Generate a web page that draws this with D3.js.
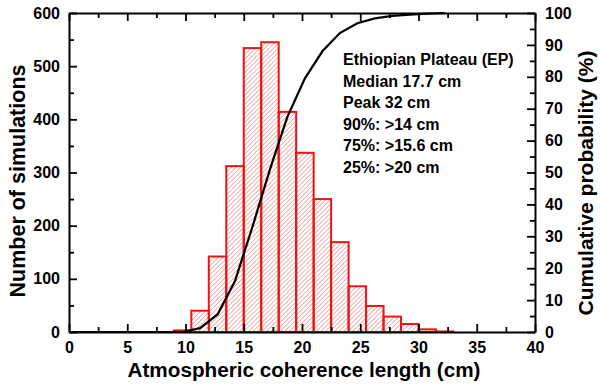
<!DOCTYPE html>
<html>
<head>
<meta charset="utf-8">
<script src="https://cdn.jsdelivr.net/npm/d3@7"></script>
<style>
  body { margin: 0; background: #fff; }
  svg { display: block; font-family: "Liberation Sans", Arial, sans-serif; font-weight: bold; }
</style>
</head>
<body>
<svg id="chart" width="600" height="386"></svg>
<script>
// histogram bins (cm) and counts
const binStarts = [9, 10.5, 12, 13.5, 15, 16.5, 18, 19.5, 21, 22.5, 24, 25.5, 27, 28.5, 30, 31.5];
const binWidth = 1.5;
const counts = [3, 40, 142, 312, 534, 545, 414, 337, 250, 169, 86, 49, 29, 15, 5, 1];

// cumulative probability curve (%)
const cumX = [0, 9.75, 11.25, 12.75, 14.25, 15.75, 17.25, 18.75, 20.25, 21.75, 23.25, 24.75, 26.25, 27.75, 29.25, 30.75, 32.25];
const cumY = [0, 0, 1.2, 5.5, 16, 33, 51, 67.5, 79.5, 88, 93.7, 96.8, 98.3, 99.1, 99.5, 99.8, 100];

const notes = [
  'Ethiopian Plateau (EP)',
  'Median 17.7 cm',
  'Peak 32 cm',
  '90%: >14 cm',
  '75%: >15.6 cm',
  '25%: >20 cm'
];

const margin = { top: 13, right: 65, bottom: 54, left: 69 };
const width = 600, height = 386;
const svg = d3.select('#chart');

const x = d3.scaleLinear().domain([0, 40]).range([margin.left, width - margin.right]);
const y = d3.scaleLinear().domain([0, 600]).range([height - margin.bottom, margin.top]);
const y2 = d3.scaleLinear().domain([0, 100]).range([height - margin.bottom, margin.top]);

const red = '#ec1515';

// hatch pattern
const defs = svg.append('defs');
const pat = defs.append('pattern')
  .attr('id', 'hatch')
  .attr('patternUnits', 'userSpaceOnUse')
  .attr('width', 3.2).attr('height', 3.2)
  .attr('patternTransform', 'rotate(45)');
pat.append('line')
  .attr('x1', 0).attr('y1', 0).attr('x2', 0).attr('y2', 3.2)
  .attr('stroke', '#e03434').attr('stroke-width', 0.75);

// bars
svg.append('g')
  .selectAll('rect')
  .data(counts)
  .join('rect')
  .attr('x', (d, i) => x(binStarts[i]))
  .attr('width', (d, i) => x(binStarts[i] + binWidth) - x(binStarts[i]))
  .attr('y', (d) => y(d))
  .attr('height', (d) => y(0) - y(d))
  .attr('fill', 'url(#hatch)')
  .attr('stroke', red)
  .attr('stroke-width', 2);

// cumulative curve
const line = d3.line()
  .x((d, i) => x(cumX[i]))
  .y((d) => y2(d));
svg.append('path')
  .datum(cumY)
  .attr('d', line)
  .attr('fill', 'none')
  .attr('stroke', '#000')
  .attr('stroke-width', 2.2);

// axes with inward major/minor ticks
function styleAxis(g) {
  g.select('.domain').attr('stroke', '#000').attr('stroke-width', 2);
  g.selectAll('.tick line').attr('stroke', '#000').attr('stroke-width', 1.8);
  g.selectAll('.tick text').attr('fill', '#000').attr('font-size', 16).attr('font-weight', 'bold');
}

const xb = height - margin.bottom;
const xt = margin.top;
const yl = margin.left;
const yr = width - margin.right;

// bottom
svg.append('g').attr('transform', `translate(0,${xb})`)
  .call(d3.axisBottom(x).tickValues(d3.range(0, 41, 2.5)).tickSize(0).tickFormat(''))
  .call((g) => g.selectAll('.tick line').attr('y2', (d) => (d % 5 === 0 ? -8 : -5)))
  .call(styleAxis);
svg.append('g').attr('transform', `translate(0,${xb})`)
  .call(d3.axisBottom(x).tickValues(d3.range(0, 41, 5)).tickSize(0).tickPadding(10))
  .call((g) => g.select('.domain').remove())
  .call(styleAxis);

// top
svg.append('g').attr('transform', `translate(0,${xt})`)
  .call(d3.axisTop(x).tickValues(d3.range(0, 41, 2.5)).tickSize(0).tickFormat(''))
  .call((g) => g.selectAll('.tick line').attr('y2', (d) => (d % 5 === 0 ? 8 : 5)))
  .call(styleAxis);

// left
svg.append('g').attr('transform', `translate(${yl},0)`)
  .call(d3.axisLeft(y).tickValues(d3.range(0, 601, 50)).tickSize(0).tickFormat(''))
  .call((g) => g.selectAll('.tick line').attr('x2', (d) => (d % 100 === 0 ? 8 : 5)))
  .call(styleAxis);
svg.append('g').attr('transform', `translate(${yl},0)`)
  .call(d3.axisLeft(y).tickValues(d3.range(0, 601, 100)).tickSize(0).tickPadding(9))
  .call((g) => g.select('.domain').remove())
  .call(styleAxis);

// right
svg.append('g').attr('transform', `translate(${yr},0)`)
  .call(d3.axisRight(y2).tickValues(d3.range(0, 101, 5)).tickSize(0).tickFormat(''))
  .call((g) => g.selectAll('.tick line').attr('x2', (d) => (d % 10 === 0 ? -8 : -5)))
  .call(styleAxis);
svg.append('g').attr('transform', `translate(${yr},0)`)
  .call(d3.axisRight(y2).tickValues(d3.range(0, 101, 10)).tickSize(0).tickPadding(10))
  .call((g) => g.select('.domain').remove())
  .call(styleAxis);

// titles
svg.append('text')
  .attr('x', 304)
  .attr('y', 377)
  .attr('text-anchor', 'middle')
  .attr('font-size', 20.7)
  .text('Atmospheric coherence length (cm)');

svg.append('text')
  .attr('transform', 'translate(25,181) rotate(-90)')
  .attr('text-anchor', 'middle')
  .attr('font-size', 21.5)
  .text('Number of simulations');

svg.append('text')
  .attr('transform', 'translate(593,183) rotate(-90)')
  .attr('text-anchor', 'middle')
  .attr('font-size', 21)
  .text('Cumulative probability (%)');

// annotation
svg.append('g')
  .selectAll('text')
  .data(notes)
  .join('text')
  .attr('x', 343)
  .attr('y', (d, i) => 65 + i * 21.6)
  .attr('font-size', 16)
  .text((d) => d);
</script>
</body>
</html>
